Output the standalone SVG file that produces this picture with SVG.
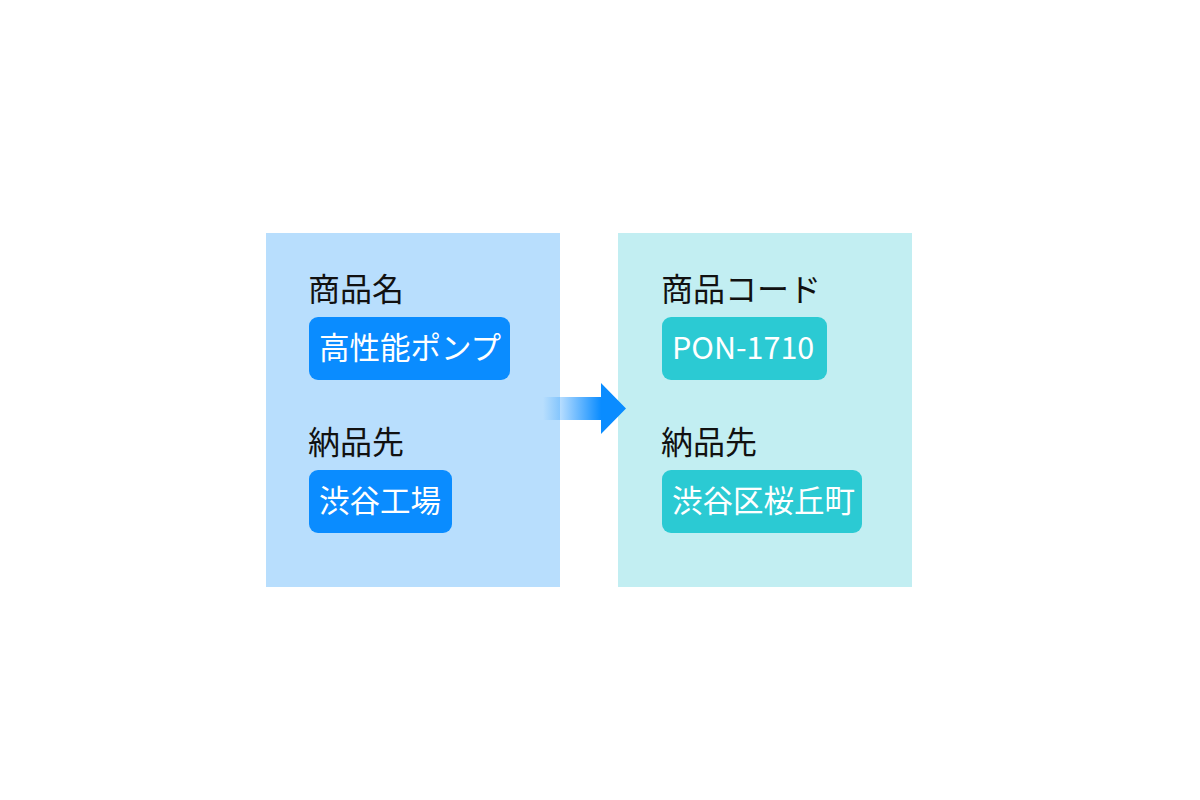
<svg xmlns="http://www.w3.org/2000/svg" width="1200" height="800" viewBox="0 0 1200 800">
<defs>
<style>
.title{font-family:"Noto Sans CJK JP","Noto Sans",sans-serif;font-size:32px;fill:#111}
.chiptext{font-family:"Noto Sans CJK JP","Noto Sans",sans-serif;font-size:30.5px;fill:#fff}
.chipA{fill:#0A8CFF}
.chipB{fill:#2BCAD3}
</style>
<linearGradient id="arrowGrad" x1="543" y1="0" x2="626" y2="0" gradientUnits="userSpaceOnUse">
<stop offset="0" stop-color="#0A8CFF" stop-opacity="0"/>
<stop offset="0.7" stop-color="#0A8CFF" stop-opacity="1"/>
<stop offset="1" stop-color="#0A8CFF" stop-opacity="1"/>
</linearGradient>
</defs>
<rect width="1200" height="800" fill="#fff"/>
<g id="source">
<rect x="266" y="233" width="294" height="354" fill="#B8DEFD"/>
<text class="title" x="308" y="301">商品名</text>
<rect class="chipA" x="309" y="317" width="201" height="63" rx="9"/>
<text class="chiptext" x="319" y="359">高性能ポンプ</text>
<text class="title" x="308" y="454">納品先</text>
<rect class="chipA" x="309" y="470" width="143" height="63" rx="9"/>
<text class="chiptext" x="319" y="512">渋谷工場</text>
</g>
<g id="target">
<rect x="618" y="233" width="294" height="354" fill="#C2EEF2"/>
<text class="title" x="661" y="301">商品コード</text>
<rect class="chipB" x="662" y="317" width="165" height="63" rx="9"/>
<text class="chiptext" x="672" y="359">PON-1710</text>
<text class="title" x="661" y="454">納品先</text>
<rect class="chipB" x="662" y="470" width="200" height="63" rx="9"/>
<text class="chiptext" x="672" y="512">渋谷区桜丘町</text>
</g>
<g id="connectors">
<path d="M543 397 L601 397 L601 383 L626 408.5 L601 434 L601 420 L543 420 Z" fill="url(#arrowGrad)"/>
</g>
</svg>
